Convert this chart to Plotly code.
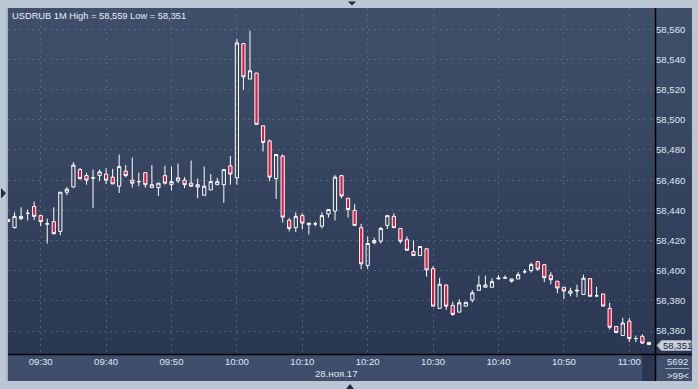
import plotly.graph_objects as go
import pandas as pd

# ---------------- data ----------------
start_time = "2017-11-28 09:25"
opens = [58.4325, 58.4285, 58.4345, 58.4380, 58.4425, 58.4365, 58.4310, 58.4325, 58.4260, 58.4520,
         58.4555, 58.4670, 58.4630, 58.4615, 58.4630, 58.4640, 58.4620, 58.4560, 58.4660, 58.4600,
         58.4590, 58.4650, 58.4550, 58.4550, 58.4630, 58.4570, 58.4595, 58.4600, 58.4580, 58.4570,
         58.4500, 58.4535, 58.4570, 58.4570, 58.4695, 58.4615, 58.5505, 58.5270, 58.5310, 58.4960,
         58.4860, 58.4610, 58.4760, 58.4335, 58.4285, 58.4365, 58.4305, 58.4310, 58.4295, 58.4375,
         58.4395, 58.4630, 58.4480, 58.4400, 58.4285, 58.4035, 58.4200, 58.4195, 58.4300, 58.4360,
         58.4280, 58.4205, 58.4127, 58.4100, 58.4145, 58.4013, 58.3750, 58.3905, 58.3770, 58.3725,
         58.3765, 58.3805, 58.3870, 58.3890, 58.3890, 58.3945, 58.3950, 58.3945, 58.3945, 58.3993,
         58.4000, 58.4060, 58.4040, 58.3970, 58.3930, 58.3890, 58.3850, 58.3865, 58.3842, 58.3947,
         58.3833, 58.3845, 58.3750, 58.3630, 58.3570, 58.3665, 58.3550, 58.3565, 58.3525]
highs = [58.4340, 58.4387, 58.4420, 58.4405, 58.4458, 58.4370, 58.4345, 58.4420, 58.4520, 58.4555,
         58.4720, 58.4680, 58.4650, 58.4670, 58.4670, 58.4680, 58.4675, 58.4770, 58.4700, 58.4750,
         58.4650, 58.4650, 58.4700, 58.4580, 58.4695, 58.4690, 58.4710, 58.4620, 58.4730, 58.4610,
         58.4690, 58.4640, 58.4615, 58.4670, 58.4760, 58.5535, 58.5505, 58.5590, 58.5310, 58.4960,
         58.4870, 58.4770, 58.4770, 58.4350, 58.4387, 58.4380, 58.4315, 58.4325, 58.4387, 58.4405,
         58.4633, 58.4635, 58.4480, 58.4440, 58.4310, 58.4227, 58.4220, 58.4290, 58.4365, 58.4380,
         58.4280, 58.4227, 58.4200, 58.4160, 58.4145, 58.4030, 58.3953, 58.3905, 58.3793, 58.3810,
         58.3790, 58.3870, 58.3967, 58.3967, 58.3950, 58.3970, 58.3970, 58.3945, 58.3990, 58.4010,
         58.4053, 58.4060, 58.4040, 58.3990, 58.3930, 58.3890, 58.3887, 58.3907, 58.3973, 58.3947,
         58.3893, 58.3845, 58.3787, 58.3630, 58.3687, 58.3687, 58.3570, 58.3578, 58.3525]
lows = [58.4325, 58.4280, 58.4335, 58.4333, 58.4335, 58.4295, 58.4180, 58.4240, 58.4235, 58.4500,
        58.4550, 58.4605, 58.4570, 58.4415, 58.4595, 58.4575, 58.4575, 58.4515, 58.4620, 58.4550,
        58.4560, 58.4550, 58.4550, 58.4495, 58.4570, 58.4530, 58.4580, 58.4547, 58.4555, 58.4480,
        58.4500, 58.4535, 58.4570, 58.4450, 58.4570, 58.4570, 58.5200, 58.5270, 58.4970, 58.4790,
        58.4593, 58.4475, 58.4320, 58.4260, 58.4255, 58.4275, 58.4240, 58.4295, 58.4280, 58.4353,
        58.4333, 58.4480, 58.4353, 58.4298, 58.4010, 58.4010, 58.4175, 58.4180, 58.4275, 58.4285,
        58.4180, 58.4135, 58.4100, 58.4100, 58.3960, 58.3765, 58.3750, 58.3740, 58.3700, 58.3725,
        58.3765, 58.3790, 58.3870, 58.3890, 58.3890, 58.3945, 58.3947, 58.3922, 58.3945, 58.3980,
        58.3987, 58.4000, 58.3924, 58.3910, 58.3850, 58.3810, 58.3830, 58.3825, 58.3840, 58.3830,
        58.3830, 58.3765, 58.3610, 58.3585, 58.3570, 58.3527, 58.3527, 58.3515, 58.3510]
closes = [58.4340, 58.4360, 58.4360, 58.4380, 58.4360, 58.4325, 58.4310, 58.4245, 58.4520, 58.4540,
          58.4700, 58.4610, 58.4600, 58.4615, 58.4655, 58.4600, 58.4575, 58.4690, 58.4630, 58.4580,
          58.4590, 58.4570, 58.4570, 58.4580, 58.4580, 58.4590, 58.4615, 58.4570, 58.4560, 58.4555,
          58.4560, 58.4590, 58.4590, 58.4670, 58.4640, 58.5510, 58.5285, 58.5325, 58.4970, 58.4850,
          58.4620, 58.4770, 58.4355, 58.4280, 58.4360, 58.4315, 58.4315, 58.4310, 58.4365, 58.4405,
          58.4620, 58.4495, 58.4405, 58.4300, 58.4045, 58.4180, 58.4185, 58.4280, 58.4365, 58.4285,
          58.4195, 58.4135, 58.4100, 58.4160, 58.4005, 58.3765, 58.3910, 58.3765, 58.3710, 58.3787,
          58.3790, 58.3853, 58.3905, 58.3905, 58.3927, 58.3950, 58.3953, 58.3930, 58.3973, 58.3993,
          58.4040, 58.4010, 58.3953, 58.3940, 58.3885, 58.3865, 58.3865, 58.3870, 58.3950, 58.3830,
          58.3833, 58.3765, 58.3625, 58.3590, 58.3653, 58.3550, 58.3550, 58.3520, 58.3510]

y_ticks = [58.36, 58.38, 58.40, 58.42, 58.44, 58.46, 58.48, 58.50, 58.52, 58.54, 58.56]
title_text = "USDRUB 1M High = 58,559 Low = 58,351"
date_text = "28.ноя.17"
last_price_text = "58,351"
volume_text = "5692"
zoom_text = ">99<"

times = pd.date_range(start_time, periods=len(opens), freq="min")

# ---------------- geometry helpers (pixel -> paper) ----------------
W, H = 698, 389
L, R, T, B = 8, 655, 8, 354


def px(x):
    return (x - L) / (R - L)


def py(y):
    return (B - y) / (B - T)


RED = "#e3163e"
WHITE = "#ffffff"
FONT = "Liberation Sans"
LABEL = "#dfe6f1"
GRID = "rgba(110,126,155,0.55)"
FS = 9.6

fig = go.Figure()
fig.add_trace(go.Candlestick(
    x=times, open=opens, high=highs, low=lows, close=closes,
    increasing=dict(line=dict(color=WHITE, width=1), fillcolor="rgba(0,0,0,0)"),
    decreasing=dict(line=dict(color=WHITE, width=1), fillcolor=RED),
    whiskerwidth=0, hoverinfo="skip", showlegend=False,
))

shapes = []
# vertical gradient for plot area + right scale panel; each band runs to the
# bottom so later bands overlap earlier ones and no seams show
top_c = (63, 79, 106)
bot_c = (43, 56, 83)
n = 30
for i in range(n):
    y0 = T + (B - T) * i / n
    t = (i + 0.5) / n
    c = tuple(round(top_c[k] + (bot_c[k] - top_c[k]) * t) for k in range(3))
    shapes.append(dict(type="rect", xref="paper", yref="paper", layer="below",
                       x0=px(L), x1=px(692), y0=py(B), y1=py(y0),
                       line=dict(width=0), fillcolor="rgb(%d,%d,%d)" % c))
# x-axis panel
shapes.append(dict(type="rect", xref="paper", yref="paper", layer="below",
                   x0=px(L), x1=px(692), y0=py(381), y1=py(B),
                   line=dict(width=0), fillcolor="#3f4e6a"))
# dark block at the right end of the x-axis panel
shapes.append(dict(type="rect", xref="paper", yref="paper", layer="above",
                   x0=px(642), x1=px(R), y0=py(381), y1=py(355),
                   line=dict(width=0), fillcolor="#2a3752"))
# frame lines
shapes.append(dict(type="line", xref="paper", yref="paper", layer="above",
                   x0=px(L), x1=px(692), y0=py(354.5), y1=py(354.5),
                   line=dict(color="#000000", width=1.5)))
shapes.append(dict(type="line", xref="paper", yref="paper", layer="above",
                   x0=px(655.5), x1=px(655.5), y0=py(381), y1=py(T),
                   line=dict(color="#000000", width=1.5)))
shapes.append(dict(type="line", xref="paper", yref="paper", layer="above",
                   x0=px(7), x1=px(7), y0=py(381), y1=py(T),
                   line=dict(color="#8d9bb0", width=1)))
# separator under the volume number
shapes.append(dict(type="line", xref="paper", yref="paper", layer="above",
                   x0=px(665), x1=px(689), y0=py(368.5), y1=py(368.5),
                   line=dict(color="#9aa8bd", width=1)))
# last price tag
shapes.append(dict(type="path", xref="paper", yref="paper", layer="above",
                   path="M {} {} L {} {} L {} {} L {} {} L {} {} Z".format(
                       px(657), py(345.5), px(661.5), py(340.5), px(691), py(340.5),
                       px(691), py(350.5), px(661.5), py(350.5)),
                   line=dict(color="#9aa4b3", width=1), fillcolor="#c9d0da"))
# small navigation triangles
tri = "#1f2a40"
shapes.append(dict(type="path", xref="paper", yref="paper", layer="above",
                   path="M {} {} L {} {} L {} {} Z".format(px(348), py(1.5), px(356), py(1.5), px(352), py(5.5)),
                   line=dict(width=0), fillcolor=tri))
shapes.append(dict(type="path", xref="paper", yref="paper", layer="above",
                   path="M {} {} L {} {} L {} {} Z".format(px(346), py(389), px(354), py(389), px(350), py(384)),
                   line=dict(width=0), fillcolor=tri))
shapes.append(dict(type="path", xref="paper", yref="paper", layer="above",
                   path="M {} {} L {} {} L {} {} Z".format(px(1), py(188), px(1), py(198.5), px(6), py(193.2)),
                   line=dict(width=0), fillcolor=tri))

annotations = [
    dict(text=title_text, xref="paper", yref="paper", x=px(9.5), y=py(15.5),
         xanchor="left", yanchor="middle", showarrow=False,
         font=dict(family=FONT, size=9.3, color="#e9eef6")),
    dict(text=date_text, xref="paper", yref="paper", x=px(336), y=py(373.5),
         xanchor="center", yanchor="middle", showarrow=False,
         font=dict(family=FONT, size=FS, color=LABEL)),
    dict(text=last_price_text, xref="paper", yref="paper", x=px(660.5), y=py(345.5),
         xanchor="left", yanchor="middle", showarrow=False,
         font=dict(family=FONT, size=FS, color="#1a2236")),
    dict(text=volume_text, xref="paper", yref="paper", x=px(677.5), y=py(361.5),
         xanchor="center", yanchor="middle", showarrow=False,
         font=dict(family=FONT, size=FS, color=LABEL)),
    dict(text=zoom_text, xref="paper", yref="paper", x=px(677.5), y=py(375),
         xanchor="center", yanchor="middle", showarrow=False,
         font=dict(family=FONT, size=FS, color=LABEL)),
]

y_lo = 58.56 - (B - 29.3) / 1508.5
y_hi = 58.56 + (29.3 - T) / 1508.5
x_lo = pd.Timestamp("2017-11-28 09:30") - pd.Timedelta(minutes=(40.7 - L) / 6.54)
x_hi = pd.Timestamp("2017-11-28 09:30") + pd.Timedelta(minutes=(R - 40.7) / 6.54)

fig.update_layout(
    width=W, height=H,
    margin=dict(l=L, r=W - R, t=T, b=H - B, pad=0),
    paper_bgcolor="#bcc7d6",
    plot_bgcolor="rgba(0,0,0,0)",
    separators=", ",
    shapes=shapes,
    annotations=annotations,
    boxgap=0.3,
    xaxis=dict(
        type="date", range=[x_lo, x_hi], rangeslider=dict(visible=False),
        tick0="2017-11-28 09:30", dtick=600000, tickformat="%H:%M",
        showgrid=True, gridcolor=GRID, griddash="2px,4px", gridwidth=1,
        zeroline=False, showline=False, ticks="",
        tickfont=dict(family=FONT, size=FS, color=LABEL),
    ),
    yaxis=dict(
        side="right", range=[y_lo, y_hi], tickvals=y_ticks, tickformat=".3f",
        showgrid=True, gridcolor=GRID, griddash="2px,4px", gridwidth=1,
        zeroline=False, showline=False, ticks="",
        tickfont=dict(family=FONT, size=FS, color=LABEL),
    ),
)

fig.write_html("out.html", config={"displayModeBar": False},
               post_script="document.body.style.margin='0';document.body.style.overflow='hidden';")
